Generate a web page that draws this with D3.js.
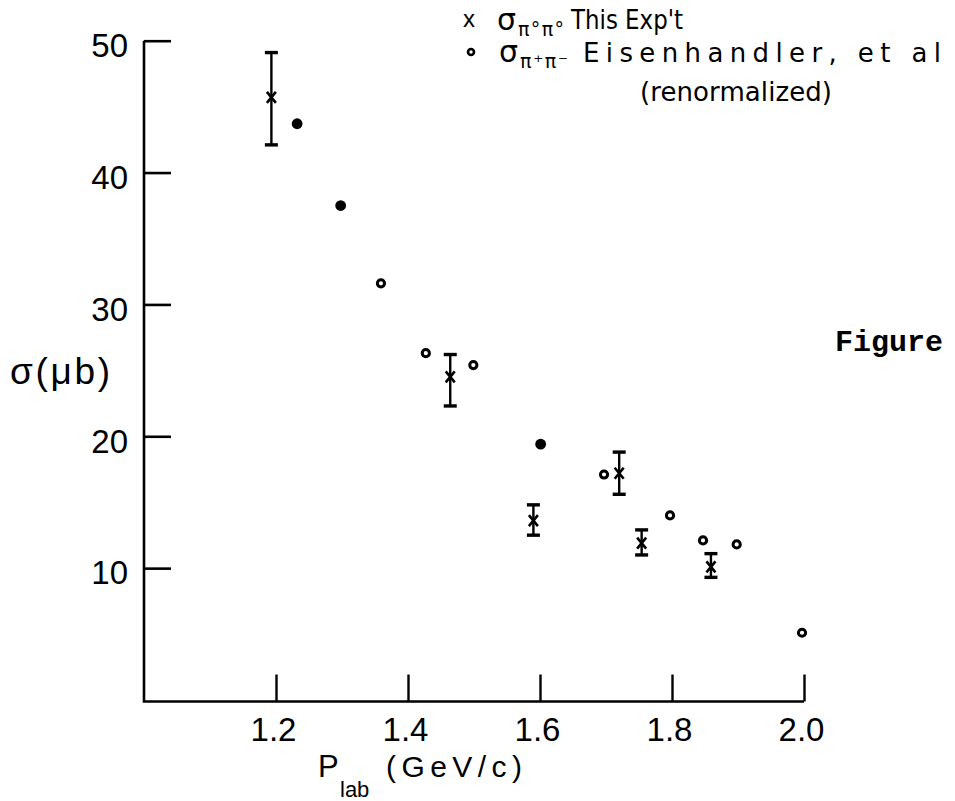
<!DOCTYPE html>
<html><head><meta charset="utf-8">
<script src="https://cdn.jsdelivr.net/npm/d3@7"></script>
<style>body{margin:0;background:#fff} svg{display:block}</style>
</head><body><svg id="c" width="955" height="801"></svg>
<script>
// ---- data ----
const xTickValues = [1.2, 1.4, 1.6, 1.8, 2.0];
const yTickValues = [10, 20, 30, 40, 50];

// sigma(pi0 pi0), this experiment, with error bars
const thisExpP     = [1.193, 1.464, 1.590, 1.720, 1.754, 1.859];
const thisExpSigma = [45.7, 24.5, 13.6, 17.2, 11.9, 10.1];
const thisExpHi    = [49.1, 26.2, 14.8, 18.8, 12.9, 11.1];
const thisExpLo    = [42.1, 22.3, 12.5, 15.6, 11.0, 9.3];

// sigma(pi+ pi-), Eisenhandler et al (renormalized)
const eisenP       = [1.232, 1.298, 1.359, 1.427, 1.499, 1.601, 1.697, 1.797, 1.847, 1.898, 1.997];
const eisenSigma   = [43.7, 37.5, 31.6, 26.3, 25.4, 19.4, 17.1, 14.0, 12.1, 11.8, 5.1];
const eisenSolid   = [true, true, false, false, false, true, false, false, false, false, false];

// ---- drawing ----
const svg = d3.select("#c");
const font = "'Liberation Sans', Arial, sans-serif";
const font2 = "'DejaVu Sans', sans-serif";
const x = d3.scaleLinear().domain([1.0, 2.0]).range([144, 804]);
const y = d3.scaleLinear().domain([0, 50]).range([700, 40.7]);

// axis frame (L shape)
svg.append("path")
  .attr("d", `M${x(1.0)},${y(50)}L${x(1.0)},${y(0)+1.5}L${x(2.0)},${y(0)+1.5}`)
  .attr("fill", "none").attr("stroke", "#000").attr("stroke-width", 2.6);

const gy = svg.append("g").attr("transform", `translate(${x(1.0)},0)`)
  .call(d3.axisLeft(y).tickValues(yTickValues).tickSizeInner(-27).tickSizeOuter(0)
        .tickPadding(16).tickFormat(d3.format("d")));
gy.select(".domain").remove();
gy.selectAll(".tick line").attr("stroke", "#000").attr("stroke-width", 2.6);
gy.selectAll(".tick text").attr("font-family", font).attr("font-size", 33)
  .attr("fill", "#000").attr("dy", "0.48em");

const gx = svg.append("g").attr("transform", `translate(0,${y(0)+1.5})`)
  .call(d3.axisBottom(x).tickValues(xTickValues).tickSizeInner(-27).tickSizeOuter(0)
        .tickPadding(16).tickFormat(d3.format(".1f")));
gx.select(".domain").remove();
gx.selectAll(".tick line").attr("stroke", "#000").attr("stroke-width", 2.4);
gx.selectAll(".tick text").attr("font-family", font).attr("font-size", 33)
  .attr("fill", "#000").attr("dx", "-3");

// axis titles
svg.append("text").attr("x", 10).attr("y", 384).attr("font-family", font)
  .attr("font-size", 37).attr("textLength", 100).attr("lengthAdjust", "spacing").text("σ(μb)");
svg.append("text").attr("x", 318).attr("y", 777).attr("font-family", font)
  .attr("font-size", 31).text("P");
svg.append("text").attr("x", 340).attr("y", 797).attr("font-family", font)
  .attr("font-size", 22).text("lab");
svg.append("text").attr("x", 386).attr("y", 777).attr("font-family", font)
  .attr("font-size", 30).attr("textLength", 136).attr("lengthAdjust", "spacing").text("(GeV/c)");

// this experiment: error bars + crosses
const expData = thisExpP.map((p, i) => ({p, s: thisExpSigma[i], hi: thisExpHi[i], lo: thisExpLo[i]}));
const ge = svg.append("g").attr("stroke", "#000").attr("fill", "none");
ge.selectAll("line.bar").data(expData).join("line").attr("class", "bar")
  .attr("x1", d => x(d.p)).attr("x2", d => x(d.p))
  .attr("y1", d => y(d.hi)).attr("y2", d => y(d.lo)).attr("stroke-width", 2.4);
ge.selectAll("line.capT").data(expData).join("line").attr("class", "capT")
  .attr("x1", d => x(d.p) - 6.5).attr("x2", d => x(d.p) + 6.5)
  .attr("y1", d => y(d.hi)).attr("y2", d => y(d.hi)).attr("stroke-width", 3.4);
ge.selectAll("line.capB").data(expData).join("line").attr("class", "capB")
  .attr("x1", d => x(d.p) - 6.5).attr("x2", d => x(d.p) + 6.5)
  .attr("y1", d => y(d.lo)).attr("y2", d => y(d.lo)).attr("stroke-width", 3.4);
ge.selectAll("path.cross").data(expData).join("path").attr("class", "cross")
  .attr("d", d => { const cx = x(d.p), cy = y(d.s);
    return `M${cx-4.5},${cy-5.5}L${cx+4.5},${cy+5.5}M${cx-4.5},${cy+5.5}L${cx+4.5},${cy-5.5}`; })
  .attr("stroke-width", 2.6);

// Eisenhandler points
const eisData = eisenP.map((p, i) => ({p, s: eisenSigma[i], solid: eisenSolid[i]}));
svg.append("g").selectAll("circle").data(eisData).join("circle")
  .attr("cx", d => x(d.p)).attr("cy", d => y(d.s))
  .attr("r", d => d.solid ? 5.4 : 3.6)
  .attr("fill", d => d.solid ? "#000" : "#fff")
  .attr("stroke", "#000").attr("stroke-width", d => d.solid ? 0 : 3);

// legend
const lg = svg.append("g").attr("fill", "#000");
lg.append("text").attr("x", 463).attr("y", 27).attr("font-family", font).attr("font-size", 24).text("x");
lg.append("text").attr("x", 497).attr("y", 30).attr("font-family", font2).attr("font-size", 30).text("σ");
lg.append("text").attr("x", 518).attr("y", 36).attr("font-family", font2).attr("font-size", 19)
  .attr("textLength", 46).attr("lengthAdjust", "spacing").text("π°π°");
lg.append("text").attr("x", 571).attr("y", 29).attr("font-family", font2).attr("font-size", 26)
  .attr("textLength", 112).attr("lengthAdjust", "spacingAndGlyphs").text("This Exp't");

lg.append("circle").attr("cx", 471).attr("cy", 52).attr("r", 3).attr("fill", "#fff")
  .attr("stroke", "#000").attr("stroke-width", 2.6);
lg.append("text").attr("x", 499).attr("y", 62).attr("font-family", font2).attr("font-size", 30).text("σ");
lg.append("text").attr("x", 520).attr("y", 68).attr("font-family", font2).attr("font-size", 19)
  .attr("textLength", 48).attr("lengthAdjust", "spacing").text("π⁺π⁻");
lg.append("text").attr("x", 583).attr("y", 62).attr("font-family", font2).attr("font-size", 26)
  .attr("textLength", 358).attr("lengthAdjust", "spacing").text("Eisenhandler, et al");
lg.append("text").attr("x", 640).attr("y", 101).attr("font-family", font2).attr("font-size", 26)
  .attr("textLength", 192).attr("lengthAdjust", "spacing").text("(renormalized)");

// stray label in the scan
svg.append("text").attr("x", 835).attr("y", 351).attr("font-family", "'Liberation Mono', 'Courier New', monospace")
  .attr("font-weight", "bold").attr("font-size", 30).text("Figure");
</script></body></html>
